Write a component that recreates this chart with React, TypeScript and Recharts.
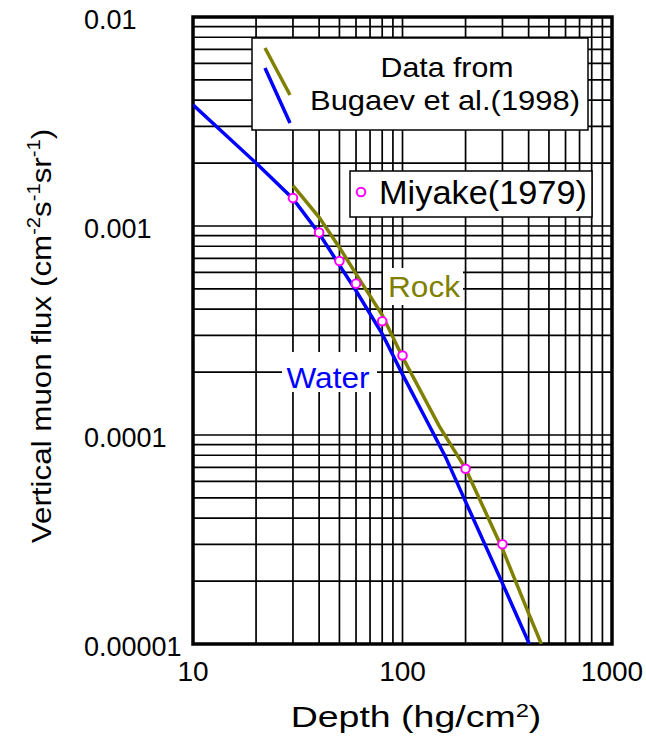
import React from "react";
import {
  ComposedChart,
  Line,
  Scatter,
  XAxis,
  YAxis,
  CartesianGrid,
  ReferenceArea,
} from "recharts";

const FONT = '"Liberation Sans", Arial, Helvetica, sans-serif';
const BLUE = "#0000FF";
const OLIVE = "#808000";
const MAGENTA = "#FF00FF";

// depth in hg/cm2, flux in cm^-2 s^-1 sr^-1
const waterDepth = [10, 20, 30, 40, 50, 60, 80, 100, 130, 160, 200, 300, 403];
const waterFlux = [3.8e-3, 2.0e-3, 1.35e-3, 9.2e-4, 6.5e-4, 4.9e-4, 3.05e-4, 1.95e-4, 1.18e-4, 7.9e-5, 4.8e-5, 1.95e-5, 1.0e-5];

const rockDepth = [30, 40, 50, 60, 80, 100, 150, 200, 300, 400, 460];
const rockFlux = [1.56e-3, 1.1e-3, 7.9e-4, 5.9e-4, 3.75e-4, 2.36e-4, 1.1e-4, 6.9e-5, 2.85e-5, 1.4e-5, 1.0e-5];

const miyakeDepth = [30, 40, 50, 60, 80, 100, 200, 300];
const miyakeFlux = [1.36e-3, 9.3e-4, 6.8e-4, 5.3e-4, 3.5e-4, 2.4e-4, 6.9e-5, 3.0e-5];

const xTicks = [10, 20, 30, 40, 50, 60, 70, 80, 90, 100, 200, 300, 400, 500, 600, 700, 800, 900, 1000];
const xLabelValues = [10, 100, 1000];
const xLabelText = ["10", "100", "1000"];

const yTicks = [
  1e-5, 2e-5, 3e-5, 4e-5, 5e-5, 6e-5, 7e-5, 8e-5, 9e-5,
  1e-4, 2e-4, 3e-4, 4e-4, 5e-4, 6e-4, 7e-4, 8e-4, 9e-4,
  1e-3, 2e-3, 3e-3, 4e-3, 5e-3, 6e-3, 7e-3, 8e-3, 9e-3,
  1e-2,
];
const yLabelValues = [0.01, 0.001, 0.0001, 0.00001];
const yLabelText = ["0.01", "0.001", "0.0001", "0.00001"];

const toPoints = (xs: number[], ys: number[]) => xs.map((d, i) => ({ depth: d, flux: ys[i] }));
const water = toPoints(waterDepth, waterFlux);
const rock = toPoints(rockDepth, rockFlux);
const miyake = toPoints(miyakeDepth, miyakeFlux);

const findLabel = (v: number, values: number[], text: string[]) => {
  const i = values.findIndex((t) => Math.abs(v - t) < t * 1e-6);
  return i < 0 ? null : text[i];
};

function XTick(props: any) {
  const { x, payload } = props;
  const label = findLabel(payload.value, xLabelValues, xLabelText);
  if (!label) return <g />;
  return (
    <text x={x} y={681} textAnchor="middle" fontSize={28} fontFamily={FONT} fill="#000">
      {label}
    </text>
  );
}

function YTick(props: any) {
  const { y, payload } = props;
  const label = findLabel(payload.value, yLabelValues, yLabelText);
  if (!label) return <g />;
  return (
    <text x={84} y={y + 12} textAnchor="start" fontSize={27} fontFamily={FONT} fill="#000">
      {label}
    </text>
  );
}

function MiyakeDot(props: any) {
  const { cx, cy } = props;
  return <circle cx={cx} cy={cy} r={4.3} fill="#fff" stroke={MAGENTA} strokeWidth={2} />;
}

function Overlay() {
  return (
    <svg
      width={646}
      height={742}
      style={{ position: "absolute", left: 0, top: 0, pointerEvents: "none" }}
      fontFamily={FONT}
    >
      {/* legend: Bugaev */}
      <rect x={252} y={38} width={336} height={92} fill="#fff" stroke="#000" strokeWidth={1.5} />
      <line x1={265} y1={48} x2={290} y2={95} stroke={OLIVE} strokeWidth={3.5} />
      <line x1={265} y1={68} x2={290} y2={123} stroke={BLUE} strokeWidth={3.5} />
      <text x={447} y={77} textAnchor="middle" fontSize={28} textLength={133} lengthAdjust="spacingAndGlyphs">
        Data from
      </text>
      <text x={445} y={110} textAnchor="middle" fontSize={28} textLength={270} lengthAdjust="spacingAndGlyphs">
        Bugaev et al.(1998)
      </text>

      {/* legend: Miyake */}
      <rect x={350} y={171} width={242} height={46} fill="#fff" stroke="#000" strokeWidth={1.5} />
      <circle cx={361} cy={192} r={4.3} fill="#fff" stroke={MAGENTA} strokeWidth={2} />
      <text x={379} y={204} fontSize={33} textLength={208} lengthAdjust="spacingAndGlyphs">
        Miyake(1979)
      </text>

      {/* curve labels */}
      <rect x={383} y={268} width={80} height={37} fill="#fff" />
      <text x={424} y={297} textAnchor="middle" fontSize={30} fill={OLIVE} textLength={72} lengthAdjust="spacingAndGlyphs">
        Rock
      </text>
      <rect x={282} y={352} width={95} height={40} fill="#fff" />
      <text x={328} y={388} textAnchor="middle" fontSize={30} fill={BLUE} textLength={83} lengthAdjust="spacingAndGlyphs">
        Water
      </text>

      {/* axis titles */}
      <g transform="translate(416,727) scale(1.25,1)">
        <text x={0} y={0} textAnchor="middle" fontSize={30}>
          Depth (hg/cm<tspan fontSize={19} dy={-10}>2</tspan>
          <tspan dy={10}>)</tspan>
        </text>
      </g>
      <g transform="translate(51,336) rotate(-90) scale(1.12,1)">
        <text x={0} y={0} textAnchor="middle" fontSize={28}>
          Vertical muon flux (cm<tspan fontSize={18} dy={-11}>-2</tspan>
          <tspan dy={11}>s</tspan>
          <tspan fontSize={18} dy={-11}>-1</tspan>
          <tspan dy={11}>sr</tspan>
          <tspan fontSize={18} dy={-11}>-1</tspan>
          <tspan dy={11}>)</tspan>
        </text>
      </g>
    </svg>
  );
}

export default function App() {
  return (
    <div style={{ position: "absolute", left: 0, top: 0, width: 646, height: 742, background: "#fff" }}>
      <ComposedChart width={646} height={742} margin={{ top: 17, right: 34, bottom: 0, left: 0 }}>
        <CartesianGrid stroke="#000" strokeWidth={1.7} />
        <XAxis
          type="number"
          dataKey="depth"
          scale="log"
          domain={[10, 1000]}
          allowDataOverflow
          ticks={xTicks}
          interval={0}
          tick={<XTick />}
          tickLine={false}
          axisLine={false}
          height={98}
        />
        <YAxis
          type="number"
          dataKey="flux"
          scale="log"
          domain={[1e-5, 1e-2]}
          allowDataOverflow
          ticks={yTicks}
          interval={0}
          tick={<YTick />}
          tickLine={false}
          axisLine={false}
          width={193}
        />
        <Line
          data={water}
          dataKey="flux"
          type="linear"
          stroke={BLUE}
          strokeWidth={3.5}
          dot={false}
          isAnimationActive={false}
        />
        <Line
          data={rock}
          dataKey="flux"
          type="linear"
          stroke={OLIVE}
          strokeWidth={3.5}
          dot={false}
          isAnimationActive={false}
        />
        <Scatter data={miyake} dataKey="flux" shape={<MiyakeDot />} isAnimationActive={false} />
        <ReferenceArea
          x1={10}
          x2={1000}
          y1={1e-5}
          y2={1e-2}
          fill="none"
          fillOpacity={0}
          stroke="#000"
          strokeWidth={3.5}
          ifOverflow="visible"
        />
      </ComposedChart>
      <Overlay />
    </div>
  );
}
